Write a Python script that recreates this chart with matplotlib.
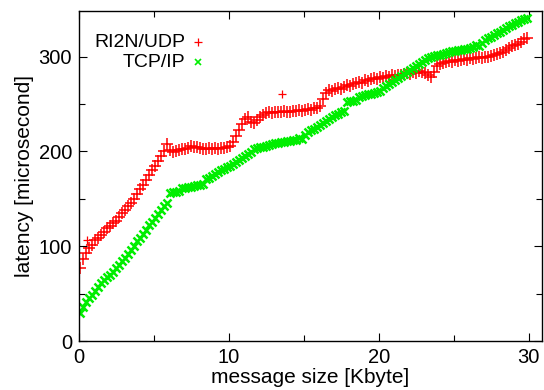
import matplotlib
matplotlib.use("Agg")
import matplotlib.pyplot as plt
from matplotlib.ticker import MultipleLocator

plt.rcParams['font.family'] = ['Liberation Sans', 'DejaVu Sans']

# message size grid [Kbyte]
size_kb = [
    0.1, 0.3, 0.5, 0.7, 0.9, 1.1, 1.3, 1.5, 1.7, 1.9,
    2.1, 2.3, 2.5, 2.7, 2.9, 3.1, 3.3, 3.5, 3.7, 3.9,
    4.1, 4.3, 4.5, 4.7, 4.9, 5.1, 5.3, 5.5, 5.7, 5.9,
    6.1, 6.3, 6.5, 6.7, 6.9, 7.1, 7.3, 7.5, 7.7, 7.9,
    8.1, 8.3, 8.5, 8.7, 8.9, 9.1, 9.3, 9.5, 9.7, 9.9,
    10.1, 10.3, 10.5, 10.7, 10.9, 11.1, 11.3, 11.5, 11.7, 11.9,
    12.1, 12.3, 12.5, 12.7, 12.9, 13.1, 13.3, 13.5, 13.7, 13.9,
    14.1, 14.3, 14.5, 14.7, 14.9, 15.1, 15.3, 15.5, 15.7, 15.9,
    16.1, 16.3, 16.5, 16.7, 16.9, 17.1, 17.3, 17.5, 17.7, 17.9,
    18.1, 18.3, 18.5, 18.7, 18.9, 19.1, 19.3, 19.5, 19.7, 19.9,
    20.1, 20.3, 20.5, 20.7, 20.9, 21.1, 21.3, 21.5, 21.7, 21.9,
    22.1, 22.3, 22.5, 22.7, 22.9, 23.1, 23.3, 23.5, 23.7, 23.9,
    24.1, 24.3, 24.5, 24.7, 24.9, 25.1, 25.3, 25.5, 25.7, 25.9,
    26.1, 26.3, 26.5, 26.7, 26.9, 27.1, 27.3, 27.5, 27.7, 27.9,
    28.1, 28.3, 28.5, 28.7, 28.9, 29.1, 29.3, 29.5, 29.7, 29.9,
]

# latency [microsecond]
ri2n_udp = [
    77, 86, 93, 98, 101, 106, 109, 112, 115, 119,
    121, 124, 127, 131, 135, 138, 142, 146, 150, 155,
    160, 164, 170, 175, 180, 185, 190, 195, 200, 208,
    201, 199, 200, 201, 202, 203, 204, 206, 205, 205,
    204, 203, 203, 204, 203, 204, 203, 204, 204, 205,
    206, 210, 216, 223, 229, 234, 236, 231, 230, 233,
    236, 238, 240, 241, 240, 242, 241, 242, 243, 242,
    242, 243, 243, 244, 243, 244, 245, 244, 246, 246,
    248, 255, 262, 265, 264, 266, 267, 266, 268, 270,
    269, 271, 272, 273, 272, 275, 274, 276, 277, 276,
    278, 277, 279, 278, 280, 279, 281, 280, 282, 283,
    282, 284, 283, 285, 284, 283, 281, 278, 284, 290,
    292, 293, 294, 295, 294, 296, 295, 296, 297, 296,
    298, 297, 298, 299, 298, 300, 299, 301, 302, 303,
    304, 305, 307, 309, 311, 312, 313, 315, 318, 319,
]
ri2n_extra_kb = [0.55, 13.55]
ri2n_extra = [107, 261]

tcp_ip = [
    30, 36, 41, 45, 49, 53, 57, 61, 64, 67,
    70, 73, 77, 80, 84, 88, 92, 96, 100, 105,
    109, 113, 117, 122, 126, 130, 134, 138, 142, 146,
    156, 157, 157, 158, 161, 161, 162, 162, 163, 164,
    164, 166, 171, 172, 174, 176, 178, 180, 181, 183,
    185, 187, 189, 191, 193, 195, 197, 199, 202, 204,
    205, 205, 206, 207, 208, 209, 209, 210, 210, 211,
    211, 212, 212, 214, 213, 217, 220, 222, 224, 226,
    228, 230, 232, 234, 236, 238, 239, 241, 243, 252,
    253, 253, 254, 257, 258, 259, 260, 261, 262, 263,
    264, 267, 269, 271, 273, 275, 277, 279, 282, 284,
    286, 288, 290, 292, 294, 296, 298, 300, 301, 302,
    302, 303, 304, 305, 306, 306, 307, 307, 308, 308,
    309, 310, 312, 311, 314, 317, 319, 321, 323, 325,
    326, 328, 330, 332, 333, 335, 336, 338, 340, 341,
]

red = '#ff0000'
green = '#00ee00'

fig = plt.figure(figsize=(5.44, 3.9), dpi=100)
ax = fig.add_axes([0.1452, 0.1256, 0.8511, 0.8462])

ax.plot(size_kb, ri2n_udp, ls='none', marker='+', ms=8, mew=1.1, color=red)
ax.plot(ri2n_extra_kb, ri2n_extra, ls='none', marker='+', ms=6, mew=0.9, color=red)
ax.plot(size_kb, tcp_ip, ls='none', marker='x', ms=6, mew=1.8, color=green)

ax.set_xlim(0, 30.9)
ax.set_ylim(0, 348)
ax.xaxis.set_major_locator(MultipleLocator(10))
ax.xaxis.set_minor_locator(MultipleLocator(5))
ax.yaxis.set_major_locator(MultipleLocator(100))
ax.yaxis.set_minor_locator(MultipleLocator(50))
ax.tick_params(which='both', direction='in', top=True, right=True,
               labelsize=14.5, width=0.8, color='black')
ax.tick_params(which='major', length=6, pad=5)
ax.tick_params(which='minor', length=4)
for s in ax.spines.values():
    s.set_linewidth(1.0)

ax.set_xlabel('message size [Kbyte]', fontsize=15, labelpad=1)
ax.set_ylabel('latency [microsecond]', fontsize=15, labelpad=3)

# gnuplot-like key: right-aligned text followed by a sample marker
ax.text(0.229, 0.905, 'RI2N/UDP', transform=ax.transAxes, ha='right',
        va='center', fontsize=14)
ax.text(0.229, 0.845, 'TCP/IP', transform=ax.transAxes, ha='right',
        va='center', fontsize=14)
ax.plot([0.257], [0.905], transform=ax.transAxes, marker='+', ms=6,
        mew=0.9, color=red, ls='none')
ax.plot([0.257], [0.845], transform=ax.transAxes, marker='x', ms=4.5,
        mew=1.2, color=green, ls='none')

fig.savefig('out.png', dpi=100)
